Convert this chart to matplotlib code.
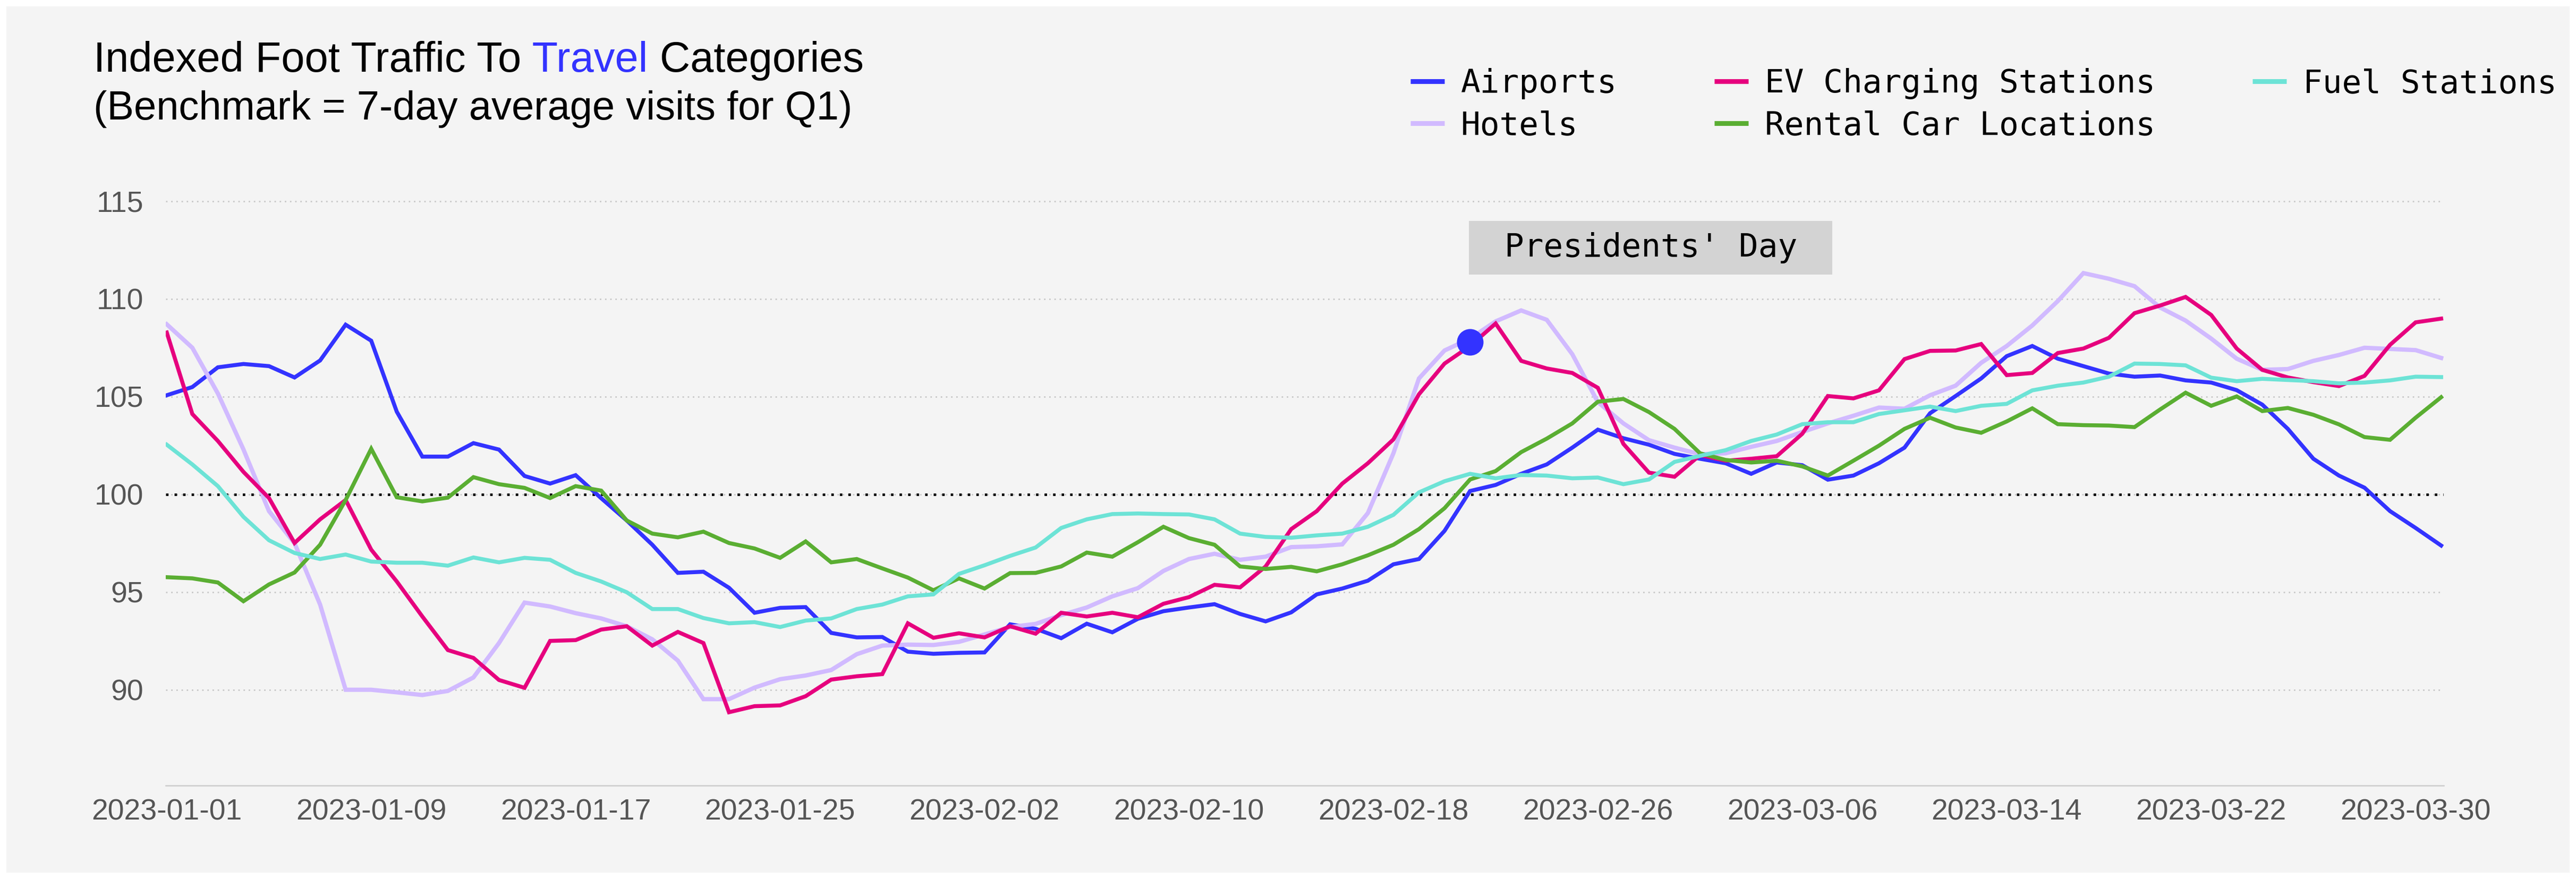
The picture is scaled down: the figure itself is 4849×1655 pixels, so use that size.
import matplotlib
matplotlib.use("Agg")
import matplotlib.pyplot as plt
import matplotlib.dates as mdates
from matplotlib.patches import Rectangle
import pandas as pd

# ---------------- data ----------------
start_date = "2023-01-01"

airports = [105.07, 105.49, 106.5, 106.67, 106.56, 105.98, 106.85, 108.68, 107.86, 104.23,
            101.93, 101.93, 102.62, 102.29, 100.94, 100.55, 100.98, 99.8, 98.66, 97.42,
            95.98, 96.04, 95.22, 93.94, 94.19, 94.23, 92.91, 92.68, 92.7, 91.95,
            91.84, 91.89, 91.91, 93.35, 93.12, 92.64, 93.38, 92.94, 93.63, 94.02,
            94.21, 94.38, 93.88, 93.5, 93.96, 94.88, 95.18, 95.58, 96.42, 96.69,
            98.13, 100.17, 100.48, 101.05, 101.53, 102.39, 103.31, 102.87, 102.54, 102.07,
            101.82, 101.59, 101.05, 101.63, 101.49, 100.75, 100.96, 101.59, 102.39, 104.15,
            105.03, 105.93, 107.07, 107.59, 106.94, 106.56, 106.18, 106.02, 106.08, 105.83,
            105.72, 105.33, 104.59, 103.35, 101.82, 100.96, 100.34, 99.14, 98.28, 97.38]

ev_charging = [108.28, 104.11, 102.73, 101.15, 99.81, 97.51, 98.72, 99.71, 97.17, 95.54,
               93.75, 92.03, 91.63, 90.5, 90.1, 92.5, 92.54, 93.08, 93.25, 92.26,
               92.96, 92.39, 88.85, 89.16, 89.2, 89.67, 90.52, 90.69, 90.8, 93.4,
               92.66, 92.89, 92.68, 93.25, 92.87, 93.94, 93.75, 93.94, 93.71, 94.4,
               94.74, 95.37, 95.24, 96.31, 98.22, 99.14, 100.55, 101.59, 102.81, 105.12,
               106.69, 107.59, 108.74, 106.83, 106.44, 106.21, 105.45, 102.58, 101.11, 100.9,
               102.01, 101.72, 101.82, 101.95, 103.1, 105.03, 104.91, 105.32, 106.92, 107.34,
               107.36, 107.69, 106.1, 106.21, 107.23, 107.46, 108.01, 109.27, 109.66, 110.1,
               109.18, 107.46, 106.37, 105.98, 105.74, 105.54, 106.06, 107.65, 108.8, 108.99]

fuel_stations = [102.54, 101.53, 100.42, 98.85, 97.65, 97.0, 96.69, 96.92, 96.56, 96.5,
                 96.5, 96.35, 96.77, 96.52, 96.75, 96.65, 95.98, 95.54, 94.99, 94.13,
                 94.13, 93.67, 93.4, 93.46, 93.21, 93.54, 93.65, 94.13, 94.36, 94.78,
                 94.88, 95.93, 96.37, 96.85, 97.28, 98.28, 98.72, 98.99, 99.02, 98.99,
                 98.97, 98.72, 97.99, 97.82, 97.78, 97.9, 97.99, 98.34, 98.95, 100.1,
                 100.67, 101.05, 100.82, 100.99, 100.96, 100.82, 100.86, 100.52, 100.76, 101.66,
                 101.97, 102.26, 102.73, 103.06, 103.59, 103.69, 103.69, 104.11, 104.3, 104.49,
                 104.26, 104.53, 104.63, 105.32, 105.56, 105.72, 106.02, 106.69, 106.67, 106.6,
                 105.97, 105.79, 105.91, 105.85, 105.79, 105.68, 105.72, 105.83, 106.02, 106.0]

hotels = [108.7, 107.5, 105.16, 102.3, 99.14, 97.5, 94.36, 90.0, 90.0, 89.87,
          89.73, 89.94, 90.63, 92.39, 94.46, 94.26, 93.92, 93.65, 93.25, 92.58,
          91.49, 89.52, 89.52, 90.11, 90.54, 90.73, 91.01, 91.82, 92.26, 92.31,
          92.29, 92.45, 92.83, 93.21, 93.37, 93.82, 94.21, 94.78, 95.2, 96.08,
          96.69, 96.96, 96.65, 96.81, 97.3, 97.34, 97.44, 99.04, 102.1, 105.93,
          107.36, 107.97, 108.85, 109.41, 108.93, 107.17, 104.72, 103.63, 102.77, 102.39,
          102.05, 102.1, 102.43, 102.73, 103.19, 103.63, 104.02, 104.44, 104.38, 105.07,
          105.56, 106.73, 107.59, 108.64, 109.89, 111.32, 111.03, 110.65, 109.56, 108.89,
          107.97, 106.94, 106.37, 106.41, 106.83, 107.13, 107.5, 107.44, 107.38, 106.98]

rental_car = [95.76, 95.7, 95.49, 94.53, 95.39, 96.0, 97.42, 99.71, 102.33, 99.85,
              99.64, 99.83, 100.88, 100.52, 100.33, 99.81, 100.42, 100.19, 98.66, 97.99,
              97.8, 98.09, 97.51, 97.23, 96.75, 97.59, 96.52, 96.69, 96.21, 95.74,
              95.09, 95.7, 95.18, 95.97, 95.98, 96.31, 97.02, 96.81, 97.55, 98.34,
              97.76, 97.42, 96.31, 96.18, 96.29, 96.06, 96.42, 96.88, 97.42, 98.22,
              99.29, 100.76, 101.19, 102.16, 102.85, 103.63, 104.74, 104.88, 104.21, 103.35,
              102.1, 101.76, 101.63, 101.72, 101.43, 100.96, 101.72, 102.49, 103.35, 103.92,
              103.42, 103.15, 103.73, 104.4, 103.59, 103.54, 103.52, 103.44, 104.34, 105.2,
              104.53, 105.01, 104.26, 104.42, 104.07, 103.58, 102.93, 102.79, 103.92, 104.97]

benchmark = 100
y_ticks = [90, 95, 100, 105, 110, 115]
tick_every_days = 8

event_label = "Presidents' Day"
event_date = "2023-02-21"
event_value = 107.8

series_names = ["Airports", "Hotels", "EV Charging Stations", "Rental Car Locations", "Fuel Stations"]
series_values = [airports, hotels, ev_charging, rental_car, fuel_stations]
series_colors = ["#3333FF", "#D1BAFF", "#E6007E", "#5AAE32", "#6DE3D6"]
series_widths = [5.4, 5.8, 5.4, 5.4, 5.4]

title_parts = ["Indexed Foot Traffic To", " Travel", " Categories"]
title_colors = ["#000000", "#3333FF", "#000000"]
subtitle = "(Benchmark = 7-day average visits for Q1)"

# ---------------- figure ----------------
W, H, DPI = 4849, 1655, 100
fig = plt.figure(figsize=(W / DPI, H / DPI), dpi=DPI, facecolor="white")
panel_col = "#F4F4F4"
m = 12
panel = Rectangle((m / W, m / H), 1 - 2 * m / W, 1 - 2 * m / H,
                  transform=fig.transFigure, facecolor=panel_col,
                  edgecolor="none", zorder=-10)
fig.add_artist(panel)

ax_left, ax_right = 312 / W, 4600 / W
ax_bottom, ax_top = 1 - 1479 / H, 1 - 342 / H
ax = fig.add_axes([ax_left, ax_bottom, ax_right - ax_left, ax_top - ax_bottom])
ax.set_facecolor(panel_col)
ax.set_zorder(1)

dates = pd.date_range(start_date, periods=len(airports), freq="D")

for name, vals, col, lw in zip(series_names, series_values, series_colors, series_widths):
    ax.plot(dates, vals, color=col, lw=lw, label=name, solid_joinstyle="miter", zorder=3)

ax.axhline(benchmark, color="black", lw=3.4, linestyle=(0, (1, 2.4)), zorder=2.5)

# event marker + label
ev_x = pd.Timestamp(event_date)
ax.plot([ev_x], [event_value], marker="o", ms=36, color="#3333FF", zorder=5,
        markeredgewidth=0)
day = pd.Timedelta(days=1)
box_x0 = ev_x - 0.04 * day
box_w = 14.22 * day
ax.add_patch(Rectangle((mdates.date2num(box_x0), 111.24), 14.22, 2.75,
                       facecolor="#D3D3D3", edgecolor="none", zorder=4))
ax.text(box_x0 + box_w / 2, 112.62, event_label, ha="center", va="center",
        fontsize=44, family="DejaVu Sans Mono", color="black", zorder=6)

# axes styling
ax.set_ylim(85.1, 116.0)
ax.set_xlim(dates[0] - 0.04 * day, dates[0] + 89.1 * day)
ax.set_yticks(y_ticks)
ax.set_xticks(dates[::tick_every_days])
ax.xaxis.set_major_formatter(mdates.DateFormatter("%Y-%m-%d"))
ax.grid(axis="y", color="#C8C8C8", lw=2.0, linestyle=(0, (1, 2.5)), zorder=1)
ax.grid(axis="x", visible=False)
for s in ["top", "right", "left"]:
    ax.spines[s].set_visible(False)
ax.spines["bottom"].set_color("#CCCCCC")
ax.spines["bottom"].set_linewidth(1.8)
ax.tick_params(axis="both", length=0, labelcolor="#555555", labelsize=40)
ax.tick_params(axis="y", pad=30)
ax.tick_params(axis="x", pad=18)
for lab in ax.get_xticklabels() + ax.get_yticklabels():
    lab.set_family("Liberation Sans")

# title (multi-coloured, chained pieces)
t = fig.text(176 / W, 1 - 135 / H, title_parts[0], fontsize=57.2, family="Liberation Sans",
             color=title_colors[0], ha="left", va="baseline")
for part, col in zip(title_parts[1:], title_colors[1:]):
    t = ax.annotate(part, xy=(1, 0), xycoords=t, ha="left", va="bottom",
                    fontsize=57.2, family="Liberation Sans", color=col,
                    annotation_clip=False)
fig.text(176 / W, 1 - 225 / H, subtitle, fontsize=54.6, family="Liberation Sans",
         color="black", ha="left", va="baseline")

# legend
handles, labels = ax.get_legend_handles_labels()
leg = fig.legend(handles, labels, loc="upper left", bbox_to_anchor=(2655 / W, 1 - 128 / H),
                 ncol=3, frameon=False, borderpad=0, borderaxespad=0,
                 handlelength=1.05, handletextpad=0.5, columnspacing=3.0,
                 labelspacing=0.33, prop={"family": "DejaVu Sans Mono", "size": 44})
for lh in leg.get_lines():
    lh.set_linewidth(6.5)
    lh.set_solid_capstyle("butt")

fig.savefig("out.png", dpi=DPI, facecolor="white")
